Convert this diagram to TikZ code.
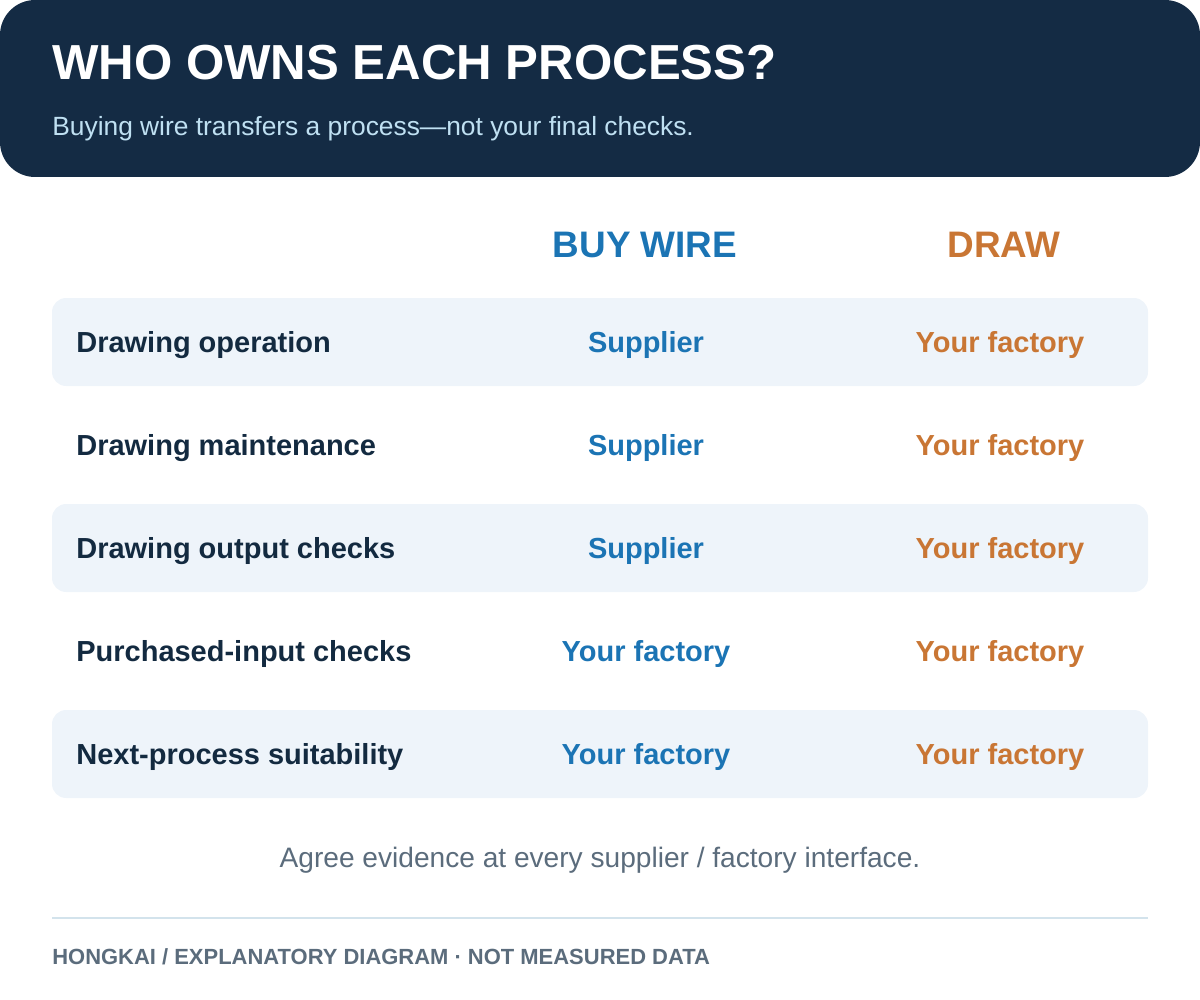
\documentclass[tikz,border=0pt]{standalone}
\usepackage{fontspec}
\setmainfont{Liberation Sans}
\usetikzlibrary{positioning}
\definecolor{navy}{HTML}{142B44}
\definecolor{subblue}{HTML}{BFE0F2}
\definecolor{buyblue}{HTML}{1B74B4}
\definecolor{draworange}{HTML}{C97634}
\definecolor{rowfill}{HTML}{EEF4FA}
\definecolor{labeldark}{HTML}{132A40}
\definecolor{notegray}{HTML}{5B6C7C}
\definecolor{rulecol}{HTML}{D3E3EC}
\begin{document}
\begin{tikzpicture}[x=0.02cm,y=-0.02cm]
			\tikzstyle{Title}	= [anchor=base west, text=white, font=\fontsize{28}{32}\selectfont\bfseries, inner sep=0pt]
			\tikzstyle{Sub}		= [anchor=base west, text=subblue, font=\fontsize{15}{18}\selectfont, inner sep=0pt]
			\tikzstyle{Head}	= [anchor=base, font=\fontsize{21}{25}\selectfont\bfseries, inner sep=0pt]
			\tikzstyle{Row}		= [anchor=base west, text=labeldark, font=\fontsize{16.5}{20}\selectfont\bfseries, inner sep=0pt]
			\tikzstyle{Cell}	= [anchor=base, font=\fontsize{16.5}{20}\selectfont\bfseries, inner sep=0pt]
			\tikzstyle{Band}	= [fill=rowfill, rounded corners=8]

			\useasboundingbox (0,0) rectangle (1200,1000);
			\fill [navy, rounded corners=20] (0,0) rectangle (1200,177);
			\node (title) at (52,80) [Title] {WHO OWNS EACH PROCESS?};
			\node (sub) at (52,136) [Sub] {Buying wire transfers a process—not your final checks.};

			\node (buy) at (645,257) [Head, text=buyblue] {BUY WIRE};
			\node (draw) at (1004,257) [Head, text=draworange] {DRAW};

			\foreach \y in {342,548,754}
				\fill [Band] (52,\y-44) rectangle (1148,\y+44);

			\foreach \y/\lab/\buy/\nm in {342/Drawing operation/Supplier/a,
				445/Drawing maintenance/Supplier/b,
				548/Drawing output checks/Supplier/c,
				651/Purchased-input checks/Your factory/d,
				754/Next-process suitability/Your factory/e} {
				\node (row\nm) at (76,\y+10) [Row] {\lab};
				\node (buy\nm) at (646,\y+10) [Cell, text=buyblue] {\buy};
				\node (draw\nm) at (1000,\y+10) [Cell, text=draworange] {Your factory};
			}

			\node (note) at (600,867) [anchor=base, text=notegray, font=\fontsize{16}{19}\selectfont, inner sep=0pt] {Agree evidence at every supplier / factory interface.};
			\coordinate (ruleL) at (52,918);
			\coordinate (ruleR) at (1148,918);
			\draw [rulecol, line width=1.5pt] (ruleL) -- (ruleR);
			\node (foot) at (52,964) [anchor=base west, text=notegray, font=\fontsize{12.5}{15}\selectfont\bfseries, inner sep=0pt] {HONGKAI / EXPLANATORY DIAGRAM · NOT MEASURED DATA};
		\end{tikzpicture}
\end{document}
